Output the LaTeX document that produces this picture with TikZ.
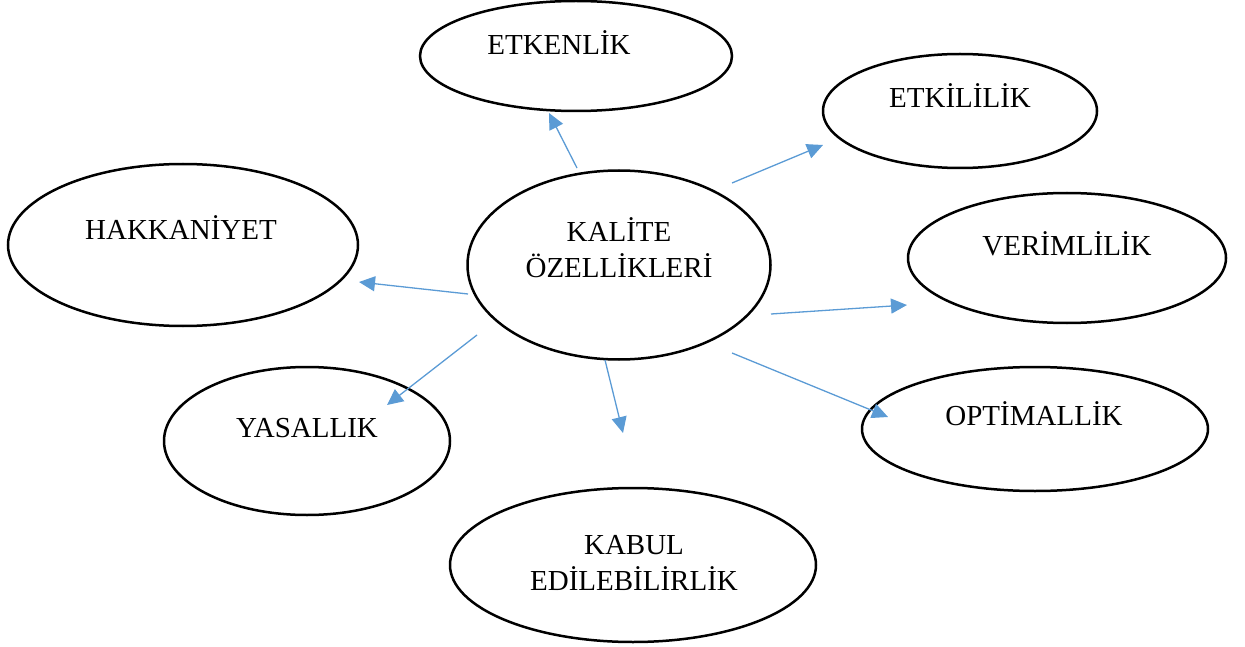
\documentclass[tikz,border=0pt]{standalone}
\usepackage{fontspec}
\setmainfont{Liberation Serif}
\usetikzlibrary{shapes.geometric,arrows.meta}
\definecolor{arrblue}{HTML}{5B9BD5}
\begin{document}
\begin{tikzpicture}[x=1pt,y=-1pt,
  oval/.style={ellipse,draw=black,line width=2.5pt,inner sep=0pt},
  lbl/.style={font=\fontsize{29}{35.5}\selectfont,anchor=base,align=center,inner sep=0pt},
  arr/.style={color=arrblue,line width=1.3pt,-{Triangle[length=16pt,width=15pt]}}]
\useasboundingbox (0,0) rectangle (1245,647);

% ellipses
\node[oval,minimum width=312pt,minimum height=110pt] (e1) at (576,56) {};
\node[oval,minimum width=274pt,minimum height=114pt] (e2) at (960,111) {};
\node[oval,minimum width=350pt,minimum height=162pt] (e3) at (183,245) {};
\node[oval,minimum width=303pt,minimum height=189pt] (c) at (619,265) {};
\node[oval,minimum width=318pt,minimum height=130pt] (e4) at (1067,258) {};
\node[oval,minimum width=286pt,minimum height=148pt] (e5) at (307,441) {};
\node[oval,minimum width=346pt,minimum height=124pt] (e6) at (1035,429) {};
\node[oval,minimum width=366pt,minimum height=154pt] (e7) at (633,565) {};

% labels (base anchor = baseline of the last line)
\node[lbl] (t1) at (559,55) {ETKENLİK};
\node[lbl] (t2) at (960,108) {ETKİLİLİK};
\node[lbl] (t3) at (181,240) {HAKKANİYET};
\node[lbl] (tc) at (619,277) {KALİTE\\ÖZELLİKLERİ};
\node[lbl] (t4) at (1067,255) {VERİMLİLİK};
\node[lbl] (t5) at (307,437) {YASALLIK};
\node[lbl] (t6) at (1034,425) {OPTİMALLİK};
\node[lbl] (t7) at (634,590) {KABUL\\EDİLEBİLİRLİK};

% connector ends
\coordinate (s1) at (577,168);  \coordinate (p1) at (549,113);
\coordinate (s2) at (732,183);  \coordinate (p2) at (823,145);
\coordinate (s3) at (468,294);  \coordinate (p3) at (359,282);
\coordinate (s4) at (771,314);  \coordinate (p4) at (907,305);
\coordinate (s5) at (477,335);  \coordinate (p5) at (387,405);
\coordinate (s6) at (732,353);  \coordinate (p6) at (888,417);
\coordinate (s7) at (605,360);  \coordinate (p7) at (623,433);

\draw[arr] (s1) -- (p1);
\draw[arr] (s2) -- (p2);
\draw[arr] (s3) -- (p3);
\draw[arr] (s4) -- (p4);
\draw[arr] (s5) -- (p5);
\draw[arr] (s6) -- (p6);
\draw[arr] (s7) -- (p7);
\end{tikzpicture}
\end{document}
